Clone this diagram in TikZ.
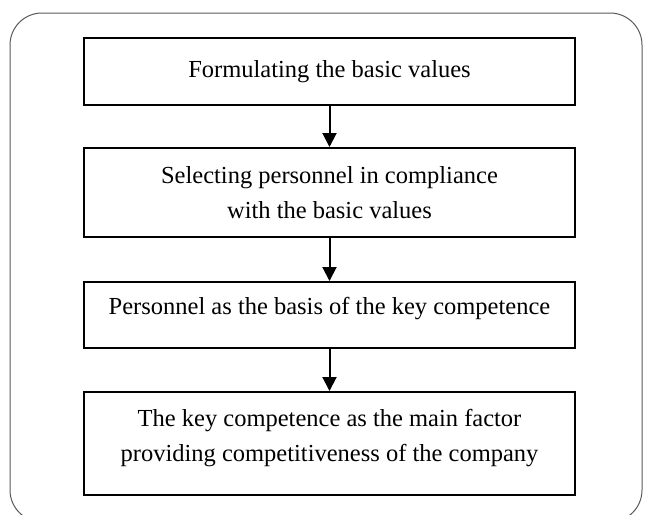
\documentclass[tikz,border=0pt]{standalone}
\usepackage{fontspec}
\setmainfont{Liberation Serif}
\usetikzlibrary{arrows.meta, positioning}

\tikzset{
  stepbox/.style={draw, line width=2pt, minimum width=491pt, inner sep=0pt, align=center,
    font=\fontsize{24.5}{34.5}\selectfont},
  flow/.style={-{Triangle[width=14pt,length=14pt]}, line width=2pt},
}

\begin{document}
\begin{tikzpicture}[x=1pt, y=-1pt]
\useasboundingbox (0,0) rectangle (645,514);
\draw[black!65, line width=1pt, rounded corners=32pt] (10,13) rectangle (642,522);

\node[stepbox, minimum height=67pt] (values) at (329.5,71.5) {Formulating the basic values};
\node[stepbox, minimum height=89pt] (selecting) at (329.5,192.5) {Selecting personnel in compliance\\with the basic values};
\node[stepbox, minimum height=66pt, text depth=18pt] (personnel) at (329.5,315) {Personnel as the basis of the key competence};
\node[stepbox, minimum height=103pt, text depth=16pt] (competence) at (329.5,443.5) {The key competence as the main factor\\providing competitiveness of the company};

\draw[flow] (values) -- (selecting);
\draw[flow] (selecting) -- (personnel);
\draw[flow] (personnel) -- (competence);
\end{tikzpicture}
\end{document}
